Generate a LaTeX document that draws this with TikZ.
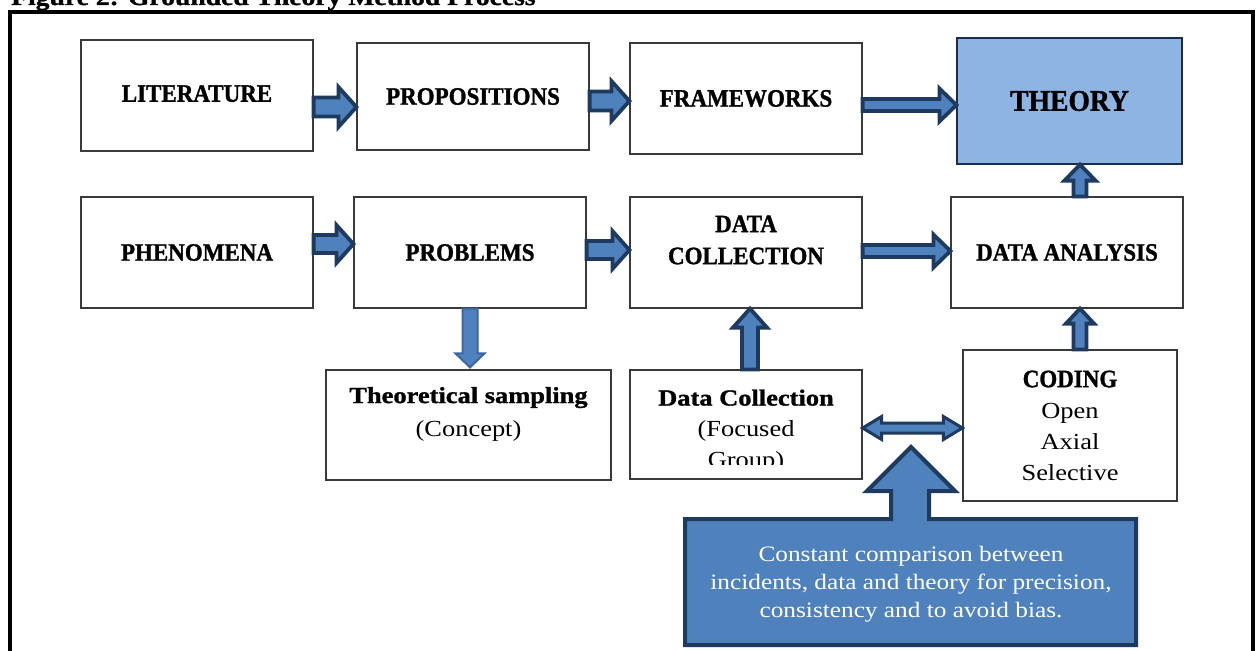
\documentclass[tikz,border=0pt]{standalone}
\usepackage{fontspec}
\setmainfont{Liberation Serif}
\newfontfamily\capsf{Liberation Serif}[FakeStretch=0.92, BoldFeatures={FakeBold=1.2}]
\newfontfamily\camf{Liberation Serif}[FakeStretch=1.15, BoldFeatures={FakeBold=1.2}]
\usetikzlibrary{calc}
\definecolor{navy}{HTML}{1F3A5F}
\definecolor{afill}{HTML}{4F81BD}
\definecolor{tfill}{HTML}{8DB4E2}
\definecolor{dline}{HTML}{3A67A0}
\definecolor{boxline}{HTML}{3A3A3A}

% block arrow: [opts]{from}{to}{shaft half}{head half}{head length}
\newcommand\blockarrow[6][]{%
  \coordinate (tmpB) at ($(#3)!#6!(#2)$);
  \draw[barrow,#1] ($(#2)!#4!90:(#3)$) -- ($(tmpB)!#4!90:(#3)$) -- ($(tmpB)!#5!90:(#3)$)
    -- (#3) -- ($(tmpB)!#5!-90:(#3)$) -- ($(tmpB)!#4!-90:(#3)$) -- ($(#2)!#4!-90:(#3)$) -- cycle;
}
% double block arrow
\newcommand\dblarrow[6][]{%
  \coordinate (tmpA) at ($(#2)!#6!(#3)$);
  \coordinate (tmpB) at ($(#3)!#6!(#2)$);
  \draw[barrow,#1] (#2) -- ($(tmpA)!#5!90:(#3)$) -- ($(tmpA)!#4!90:(#3)$) -- ($(tmpB)!#4!90:(#3)$)
    -- ($(tmpB)!#5!90:(#3)$) -- (#3) -- ($(tmpB)!#5!-90:(#3)$) -- ($(tmpB)!#4!-90:(#3)$)
    -- ($(tmpA)!#4!-90:(#3)$) -- ($(tmpA)!#5!-90:(#3)$) -- cycle;
}

\begin{document}
\begin{tikzpicture}[x=1pt,y=-1pt,
  box/.style={draw=boxline, line width=1.2pt, fill=white, inner sep=0pt, align=center},
  captext/.style={font=\capsf\bfseries\fontsize{25}{32}\selectfont},
  regtext/.style={font=\camf\fontsize{23}{31}\selectfont, align=center},
  barrow/.style={draw=navy, fill=afill, line width=3.8pt, line join=miter},
  lightarrow/.style={draw=dline, line width=2pt},
]
\path[use as bounding box] (0,0) rectangle (1257,650);
\clip (0,0) rectangle (1257,650);
\fill[white] (0,0) rectangle (1257,650);

% title (cut by the top edge)
\node[anchor=base west, inner sep=0pt, font=\camf\bfseries\fontsize{24}{28}\selectfont] (title) at (11,5) {Figure 2: Grounded Theory Method Process};

% outer frame
\draw[line width=4pt, line join=miter] (10,700) -- (10,12) -- (1253,12) -- (1253,700);

% row 1
\node[box, captext, minimum width=232pt, minimum height=111pt] (lit) at (197,95.5) {\raisebox{4pt}{LITERATURE}};
\node[box, captext, minimum width=232pt, minimum height=107pt] (prop) at (473,96.5) {PROPOSITIONS};
\node[box, captext, minimum width=232pt, minimum height=111pt] (frame) at (746,98.5) {FRAMEWORKS};
\node[box, draw=navy!80!black, fill=tfill, font=\capsf\bfseries\fontsize{30}{32}\selectfont, minimum width=225pt, minimum height=126pt] (theory) at (1069.5,101) {THEORY};

% row 2
\node[box, captext, minimum width=232pt, minimum height=111pt] (phen) at (197,252.5) {PHENOMENA};
\node[box, captext, minimum width=232pt, minimum height=111pt] (prob) at (470,252.5) {PROBLEMS};
\node[box, minimum width=232pt, minimum height=111pt] (dc) at (746,252.5) {};
\node[captext, align=center, inner sep=0pt] (dctext) at (746,240) {DATA\\COLLECTION};
\node[box, captext, minimum width=232pt, minimum height=111pt] (da) at (1067,252.5) {DATA ANALYSIS};

% row 3
\node[box, minimum width=285pt, minimum height=110pt] (ts) at (468.5,425) {};
\node[regtext, inner sep=0pt, font=\camf\fontsize{23}{33}\selectfont] (tstext) at (468.5,414) {\textbf{Theoretical sampling}\\(Concept)};
\node[box, minimum width=232pt, minimum height=109pt] (dcf) at (746,424.5) {};
\begin{scope}
  \clip (dcf.north west) rectangle ([yshift=15pt]dcf.south east);
  \node[regtext, inner sep=0pt] (dcftext) at (746,431) {\textbf{Data Collection}\\(Focused\\Group)};
\end{scope}
\node[box, regtext, minimum width=214pt, minimum height=151pt] (coding) at (1070,425.5) {{\capsf\bfseries\fontsize{25}{31}\selectfont CODING}\\Open\\Axial\\Selective};

% connectors row 1
\coordinate (a1s) at ([yshift=-11.5pt]lit.east);
\coordinate (a1e) at (prop.west |- a1s);
\blockarrow{a1s}{a1e}{9.5pt}{20pt}{18pt}
\coordinate (a2s) at ([yshift=-4.5pt]prop.east);
\coordinate (a2e) at (frame.west |- a2s);
\blockarrow{a2s}{a2e}{9.5pt}{20pt}{18pt}
\coordinate (a3s) at ([yshift=-6.5pt]frame.east);
\coordinate (a3e) at (theory.west |- a3s);
\blockarrow{a3s}{a3e}{6pt}{16.5pt}{17pt}

% connectors row 2
\coordinate (b1s) at ([yshift=8.5pt]phen.east);
\coordinate (b1e) at (prob.west |- b1s);
\blockarrow{b1s}{b1e}{9pt}{19pt}{17pt}
\coordinate (b2s) at ([yshift=2.5pt]prob.east);
\coordinate (b2e) at (dc.west |- b2s);
\blockarrow{b2s}{b2e}{9pt}{19pt}{17pt}
\coordinate (b3s) at ([yshift=1.5pt]dc.east);
\coordinate (b3e) at (da.west |- b3s);
\blockarrow{b3s}{b3e}{6pt}{16.5pt}{17pt}

% vertical connectors
\coordinate (u1s) at ([xshift=13pt]da.north);
\coordinate (u1e) at (u1s |- theory.south);
\blockarrow{u1s}{u1e}{6.5pt}{15.5pt}{16pt}
\coordinate (u2s) at ([xshift=10pt]coding.north);
\coordinate (u2e) at (u2s |- da.south);
\blockarrow{u2s}{u2e}{6.5pt}{14pt}{15pt}
\coordinate (d1s) at (prob.south);
\coordinate (d1e) at ([yshift=2pt]d1s |- ts.north);
\blockarrow[lightarrow]{d1s}{d1e}{7.5pt}{14.5pt}{14pt}
\coordinate (u3s) at ([xshift=4pt]dcf.north);
\coordinate (u3e) at (u3s |- dc.south);
\blockarrow{u3s}{u3e}{8pt}{17pt}{19pt}
\coordinate (dbs) at ([yshift=-3.5pt]dcf.east);
\coordinate (dbe) at (coding.west |- dbs);
\dblarrow[line width=3pt]{dbs}{dbe}{5pt}{11.5pt}{19pt}

% callout with upward arrow
\draw[barrow, line width=4pt] (685,519) -- (891,519) -- (891,491) -- (867,491) -- (911,447) -- (955,491)
  -- (929,491) -- (929,519) -- (1136,519) -- (1136,645) -- (685,645) -- cycle;
\node[regtext, text=white, inner sep=0pt, font=\camf\fontsize{22}{28}\selectfont] (callout) at (911,584)
  {Constant comparison between\\incidents, data and theory for precision,\\consistency and to avoid bias.};
\end{tikzpicture}
\end{document}
